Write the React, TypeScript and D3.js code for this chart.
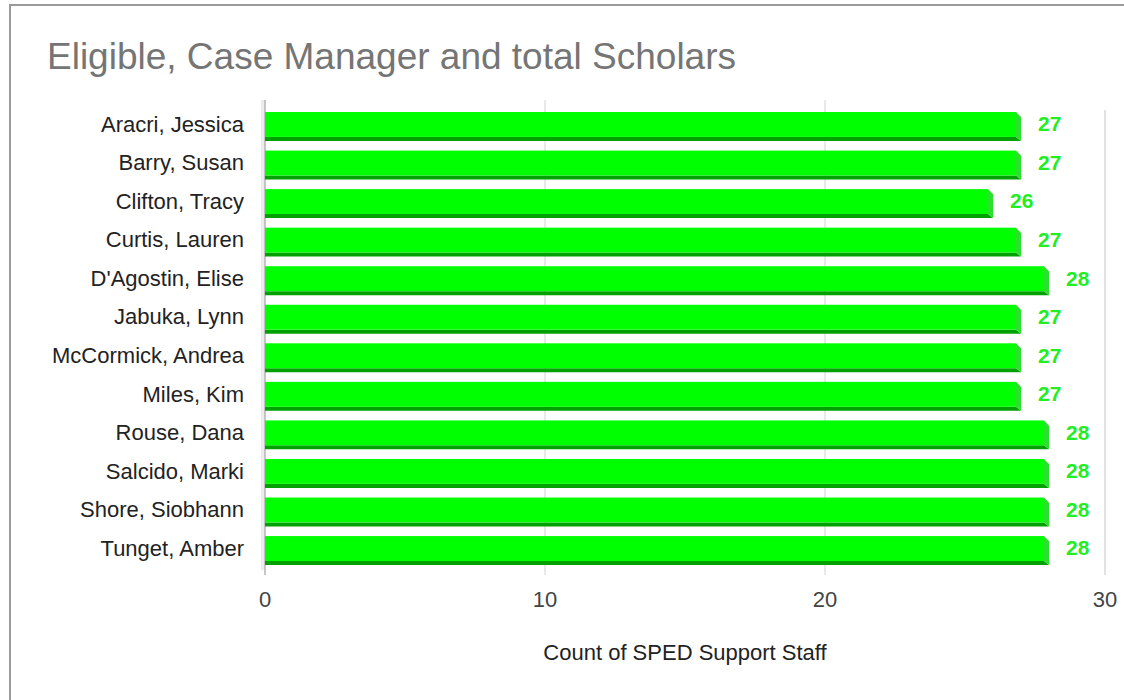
import React, { useEffect, useRef } from "react";
import * as d3 from "d3";

const names = [
  "Aracri, Jessica",
  "Barry, Susan",
  "Clifton, Tracy",
  "Curtis, Lauren",
  "D'Agostin, Elise",
  "Jabuka, Lynn",
  "McCormick, Andrea",
  "Miles, Kim",
  "Rouse, Dana",
  "Salcido, Marki",
  "Shore, Siobhann",
  "Tunget, Amber",
];
const counts = [27, 27, 26, 27, 28, 27, 27, 27, 28, 28, 28, 28];
const xTicks = [0, 10, 20, 30];

const title = "Eligible, Case Manager and total Scholars";
const xTitle = "Count of SPED Support Staff";

export default function App() {
  const svgRef = useRef<SVGSVGElement>(null);

  useEffect(() => {
    document.body.style.margin = "0";
    if (!svgRef.current) return;
    const svg = d3.select(svgRef.current);
    svg.selectAll("*").remove();

    const font = "'Liberation Sans', Arial, sans-serif";
    const width = 1124;
    const height = 700;

    svg.append("rect").attr("width", width).attr("height", height).attr("fill", "#fff");

    // frame (right and bottom edges are cut off in the picture)
    svg.append("rect")
      .attr("x", 10)
      .attr("y", 5)
      .attr("width", width + 20)
      .attr("height", height + 20)
      .attr("fill", "none")
      .attr("stroke", "#9a9a9a")
      .attr("stroke-width", 2);

    svg.append("text")
      .attr("x", 47)
      .attr("y", 69)
      .attr("fill", "#757575")
      .style("font-family", font)
      .style("font-size", "37px")
      .text(title);

    const xScale = d3.scaleLinear().domain([0, 30]).range([265, 1105]);
    const yScale = d3
      .scaleBand<string>()
      .domain(names)
      .range([107.5, 569.5])
      .paddingInner(0.25)
      .paddingOuter(0.117);
    const bw = yScale.bandwidth();

    const plotTop = 100;
    const plotBottom = 575;

    // gridlines
    xTicks.forEach((t) => {
      if (t === 0) return;
      svg.append("line")
        .attr("x1", xScale(t))
        .attr("x2", xScale(t))
        .attr("y1", t === 30 ? 110 : plotTop)
        .attr("y2", plotBottom)
        .attr("stroke", "#e2e2e2")
        .attr("stroke-width", t === 30 ? 2 : 1.5);
    });

    // baseline wall
    svg.append("rect")
      .attr("x", xScale(0) - 4)
      .attr("y", plotTop)
      .attr("width", 4)
      .attr("height", plotBottom - plotTop - 5)
      .attr("fill", "#ececec");
    svg.append("line")
      .attr("x1", xScale(0))
      .attr("x2", xScale(0))
      .attr("y1", plotTop)
      .attr("y2", plotBottom)
      .attr("stroke", "#b5b5b5")
      .attr("stroke-width", 1.5);

    // 3D bars
    const depth = 5;
    const bars = svg.append("g");
    names.forEach((name, i) => {
      const y0 = yScale(name) as number;
      const x0 = xScale(0);
      const x1 = xScale(counts[i]) - depth;
      const faceH = bw - depth + 1;
      const g = bars.append("g");
      // bottom face
      g.append("polygon")
        .attr("points", [
          [x0, y0 + faceH],
          [x1, y0 + faceH],
          [x1 + depth, y0 + bw],
          [x0, y0 + bw],
        ].map((p) => p.join(",")).join(" "))
        .attr("fill", "#00a000");
      // right side
      g.append("polygon")
        .attr("points", [
          [x1, y0],
          [x1 + depth, y0 + depth],
          [x1 + depth, y0 + bw],
          [x1, y0 + faceH],
        ].map((p) => p.join(",")).join(" "))
        .attr("fill", "#2ee02e");
      // front face
      g.append("rect")
        .attr("x", x0)
        .attr("y", y0)
        .attr("width", x1 - x0)
        .attr("height", faceH)
        .attr("fill", "#00ff00");

      // value label
      svg.append("text")
        .attr("x", xScale(counts[i]) + 17)
        .attr("y", y0 + bw / 2 - 2.5)
        .attr("dy", "0.35em")
        .attr("fill", "#22ee22")
        .style("font-family", font)
        .style("font-size", "21px")
        .style("font-weight", "bold")
        .text(String(counts[i]));

      // category label
      svg.append("text")
        .attr("x", 244)
        .attr("y", y0 + bw / 2 - 2.5)
        .attr("dy", "0.35em")
        .attr("text-anchor", "end")
        .attr("fill", "#222")
        .style("font-family", font)
        .style("font-size", "22px")
        .text(name);
    });

    // x tick labels
    xTicks.forEach((t) => {
      svg.append("text")
        .attr("x", xScale(t))
        .attr("y", 607)
        .attr("text-anchor", "middle")
        .attr("fill", "#444")
        .style("font-family", font)
        .style("font-size", "22px")
        .text(String(t));
    });

    svg.append("text")
      .attr("x", (xScale(0) + xScale(30)) / 2)
      .attr("y", 660)
      .attr("text-anchor", "middle")
      .attr("fill", "#222")
      .style("font-family", font)
      .style("font-size", "22px")
      .text(xTitle);
  }, []);

  return <svg ref={svgRef} width={1124} height={700} style={{ display: "block" }} />;
}
